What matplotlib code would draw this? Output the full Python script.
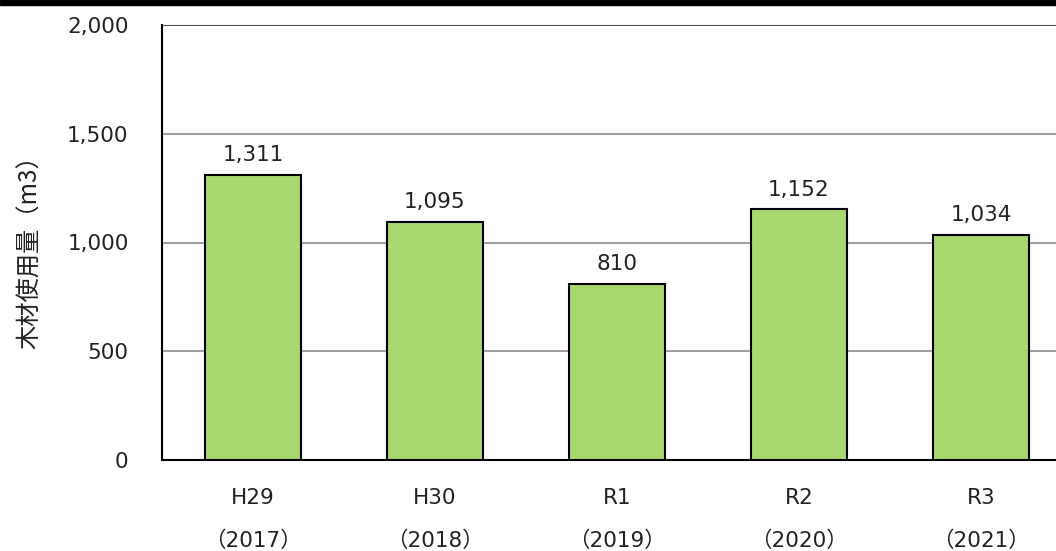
import matplotlib.pyplot as plt
from matplotlib.patches import Rectangle

# data
years = ['H29', 'H30', 'R1', 'R2', 'R3']
western = ['（2017）', '（2018）', '（2019）', '（2020）', '（2021）']
volume = [1311, 1095, 810, 1152, 1034]

plt.rcParams['font.family'] = ['DejaVu Sans', 'Noto Sans CJK JP']

fig = plt.figure(figsize=(10.56, 5.51), dpi=100)
# axes runs a little past the right edge, as in the reference
ax = fig.add_axes([162 / 1056, 91 / 551, (1072 - 162) / 1056, 435 / 551])

x = range(len(years))
ax.bar(x, volume, width=0.53, color='#a9d86e', edgecolor='black', linewidth=1.5, zorder=3)

for i, v in zip(x, volume):
    ax.text(i, v + 45, f'{v:,}', ha='center', va='bottom', fontsize=15.5, color='#222222')

ax.set_xlim(-0.5, 4.5)
ax.set_ylim(0, 2000)
ax.set_yticks([0, 500, 1000, 1500, 2000])
ax.set_yticklabels([f'{t:,}' for t in [0, 500, 1000, 1500, 2000]])
ax.set_xticks(list(x))
ax.set_xticklabels([f'{a}\n{b}' for a, b in zip(years, western)], linespacing=2.4)

ax.tick_params(axis='y', length=0, pad=24, labelsize=15.5, labelcolor='#222222')
ax.tick_params(axis='x', length=0, pad=20, labelsize=15.5, labelcolor='#222222')

ax.yaxis.grid(True, color='#8c8c8c', linewidth=1.2, zorder=0)
ax.set_axisbelow(True)
ax.spines['right'].set_visible(False)
ax.spines['top'].set_color('#555555')
ax.spines['left'].set_linewidth(1.5)
ax.spines['bottom'].set_linewidth(1.5)

fig.text(30 / 1056, 0.553, '木材使用量（m3）', rotation=90, ha='center', va='center',
         fontsize=17.5, color='#222222', family=['Noto Sans CJK JP', 'DejaVu Sans'])

# black band along the top edge
fig.patches.append(Rectangle((0, 1 - 5 / 551), 1, 5 / 551, transform=fig.transFigure,
                             color='black', zorder=10))

fig.savefig('out.png', dpi=100)
